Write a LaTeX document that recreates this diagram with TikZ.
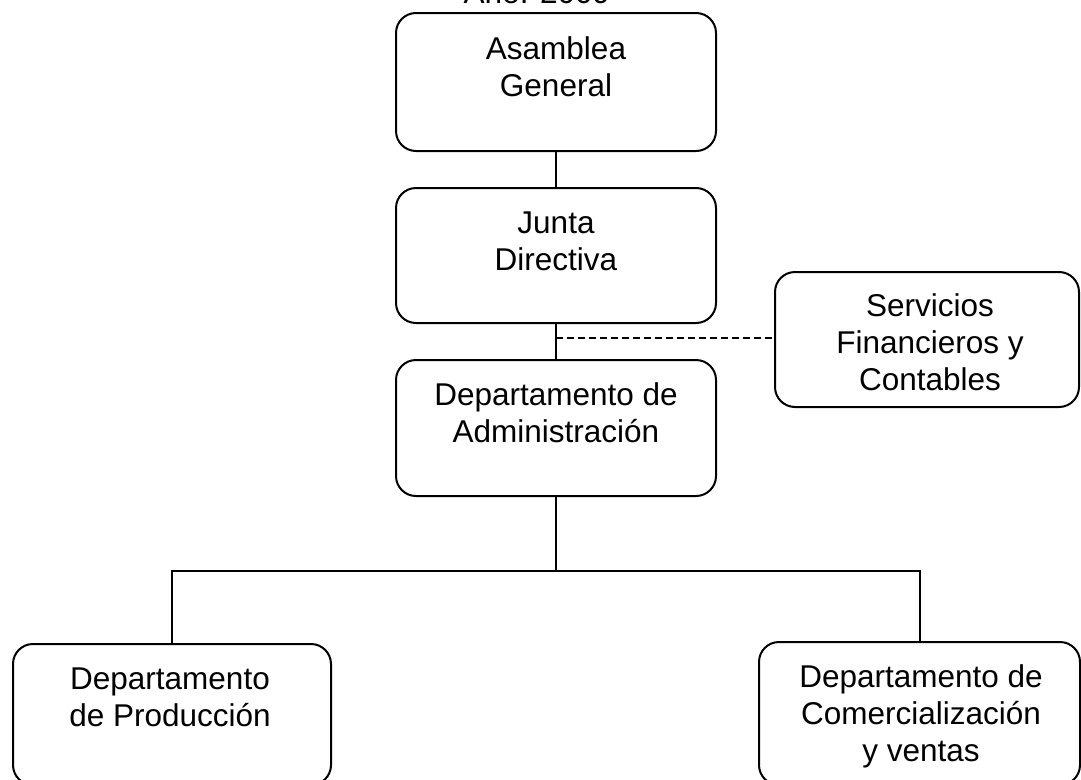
\documentclass[tikz,border=0pt]{standalone}
\usepackage{fontspec}
\setmainfont{Liberation Sans}
\begin{document}
\begin{tikzpicture}[x=1pt,y=-1pt,
  box/.style={draw, line width=2pt, rounded corners=20pt, inner sep=0pt},
  txt/.style={anchor=north, align=center, inner sep=0pt, font=\fontsize{31.5}{37.3}\selectfont},
  conn/.style={line width=2pt},
  dashconn/.style={line width=2pt, dash pattern=on 7pt off 4pt}]
\useasboundingbox (0,0) rectangle (1081,779);
\fill[white] (0,0) rectangle (1081,779);
\clip (0,0) rectangle (1081,779);
% title (cut off at the top)
\node[txt, anchor=base] (year) at (537,4) {Año: 2009};
% boxes
\node[box, minimum width=320pt, minimum height=138pt] (ag) at (556,82) {};
\node[box, minimum width=320pt, minimum height=135pt] (jd) at (556,255.5) {};
\node[box, minimum width=304pt, minimum height=135pt] (sf) at (927,339.5) {};
\node[box, minimum width=320pt, minimum height=136pt] (ad) at (556,428) {};
\node[box, minimum width=318pt, minimum height=141pt] (dp) at (172,714.5) {};
\node[box, minimum width=321pt, minimum height=143pt] (dc) at (919.5,713.5) {};
% texts
\node[txt] (agT) at (556,33) {\strut Asamblea\\General};
\node[txt] (jdT) at (556,207) {\strut Junta\\Directiva};
\node[txt] (sfT) at (930,290) {\strut Servicios\\Financieros y\\Contables};
\node[txt] (adT) at (556,379) {\strut Departamento de\\Administración};
\node[txt] (dpT) at (170,663) {\strut Departamento\\de Producción};
\node[txt] (dcT) at (921,661) {\strut Departamento de\\Comercialización\\y ventas};
% connectors
\draw[conn] (ag.south) -- (jd.north);
\draw[conn] (jd.south) -- (ad.north);
\coordinate (jdad) at (556,338);
\draw[dashconn] (jdad) -- (jdad -| sf.west);
\coordinate (bus) at (556,571);
\draw[conn] (ad.south) -- (bus);
\draw[conn] (dp.north) |- (bus) -| (dc.north);
\end{tikzpicture}
\end{document}
